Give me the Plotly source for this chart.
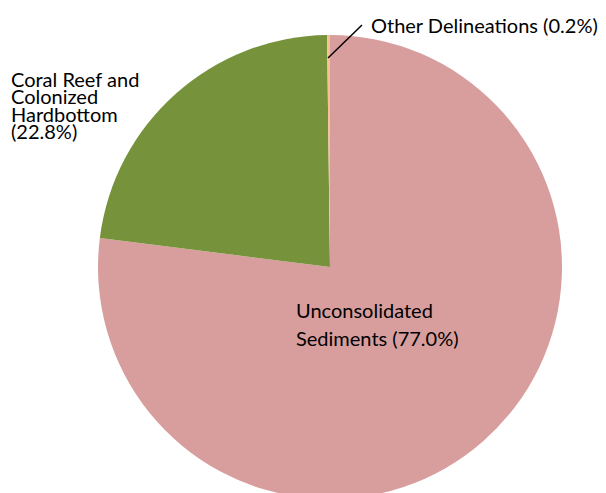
import plotly.graph_objects as go

labels = ["Unconsolidated Sediments", "Coral Reef and Colonized Hardbottom", "Other Delineations"]
values = [77.0, 22.8, 0.2]
colors = ["#D89E9E", "#76933C", "#F9BF8F"]

W, H = 606, 493
FONT = "Lato"
OFF = 8  # default body margin of the html page

def px(x):
    return (x - OFF) / W

def py(y):
    return 1 - (y - OFF) / H

fig = go.Figure(go.Pie(
    labels=labels, values=values, sort=False, direction="clockwise", rotation=0,
    marker=dict(colors=colors, line=dict(width=0)),
    textinfo="none", hoverinfo="label+percent",
    domain=dict(x=[px(98), px(562)], y=[py(499), py(35)]),
    showlegend=False,
))

ann = []
coral_lines = ["Coral Reef and", "Colonized", "Hardbottom", "(22.8%)"]
for i, t in enumerate(coral_lines):
    ann.append(dict(x=px(9), y=py(79 + 17.3 * i), text=t, xref="paper", yref="paper",
                    xanchor="left", yanchor="middle", showarrow=False,
                    font=dict(family=FONT, size=20, color="black")))
for i, t in enumerate(["Unconsolidated", "Sediments (77.0%)"]):
    ann.append(dict(x=px(294), y=py(310 + 27.5 * i), text=t, xref="paper", yref="paper",
                    xanchor="left", yanchor="middle", showarrow=False,
                    font=dict(family=FONT, size=20, color="black")))
ann.append(dict(x=px(369), y=py(25), text="Other Delineations (0.2%)", xref="paper", yref="paper",
                xanchor="left", yanchor="middle", showarrow=False,
                font=dict(family=FONT, size=20, color="black")))

fig.update_layout(
    width=W, height=H, margin=dict(l=0, r=0, t=0, b=0),
    paper_bgcolor="white", plot_bgcolor="white",
    annotations=ann,
    shapes=[dict(type="line", xref="paper", yref="paper",
                 x0=px(328), y0=py(58), x1=px(362), y1=py(25),
                 line=dict(color="black", width=1.5))],
)

fig.write_html("out.html")
